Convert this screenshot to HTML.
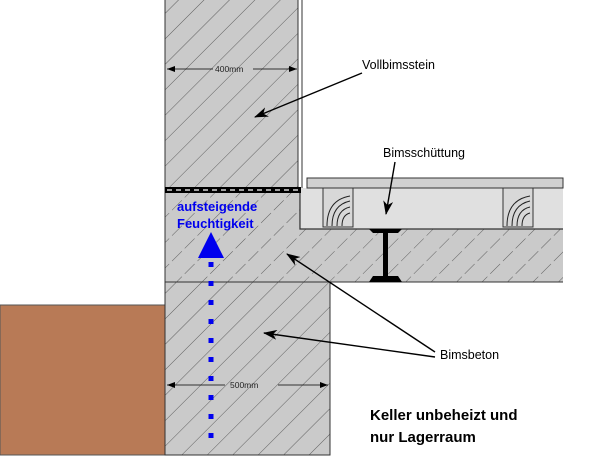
<!DOCTYPE html>
<html><head><style>body{margin:0;background:#fff}svg{display:block}</style></head><body>
<svg width="600" height="463" viewBox="0 0 600 463" xmlns="http://www.w3.org/2000/svg" font-family="Liberation Sans, sans-serif">
<defs>
<pattern id="h" width="18" height="18" patternUnits="userSpaceOnUse" patternTransform="rotate(45)">
<line x1="0" y1="0" x2="0" y2="18" stroke="#444" stroke-width="0.8"/></pattern>
<pattern id="hd" width="18" height="18" patternUnits="userSpaceOnUse" patternTransform="rotate(45)">
<line x1="0" y1="0" x2="0" y2="18" stroke="#444" stroke-width="0.8" stroke-dasharray="9,4"/></pattern>
<marker id="a" markerWidth="14" markerHeight="10" refX="13" refY="5" orient="auto" markerUnits="userSpaceOnUse"><path d="M0,0L14,5L0,10L4,5z" fill="#000"/></marker>
</defs>
<rect x="0" y="305" width="165" height="150" fill="#b87a56" stroke="#555"/>
<rect x="165" y="0" width="133" height="190" fill="#cacaca"/>
<rect x="165" y="0" width="133" height="190" fill="url(#h)"/>
<line x1="165" y1="0" x2="165" y2="190" stroke="#333"/>
<line x1="298" y1="0" x2="298" y2="190" stroke="#333"/>
<line x1="302" y1="0" x2="302" y2="190" stroke="#333"/>
<path d="M165,193 H300 V229 H563 V282 H165 Z" fill="#cacaca"/>
<path d="M165,193 H300 V229 H563 V282 H165 Z" fill="url(#hd)"/>
<path d="M300,193 V229 H563 M165,282 H563" stroke="#333" fill="none"/>
<line x1="165" y1="190" x2="165" y2="282" stroke="#333"/>
<rect x="165" y="187" width="136" height="6" fill="#000"/>
<line x1="167" y1="190" x2="300" y2="190" stroke="#fff" stroke-width="1.2" stroke-dasharray="5,4"/>
<rect x="301" y="188" width="262" height="41" fill="#e0e0e0"/>
<path d="M300,193 V229 H563" stroke="#333" stroke-width="1.3" fill="none"/>
<rect x="307" y="178" width="256" height="10" fill="#d0d0d0" stroke="#333"/>
<rect x="323" y="188" width="30" height="39" fill="#d8d8d8" stroke="#333"/>
<rect x="503" y="188" width="30" height="39" fill="#d8d8d8" stroke="#333"/>
<g fill="none" stroke="#222" stroke-width="1"><path d="M327,226 Q327,200 350,196 M332,226 Q332,205 350,201 M337,226 Q337,210 350,207 M342,226 Q342,215 350,213"/><path d="M507,226 Q507,200 530,196 M512,226 Q512,205 530,201 M517,226 Q517,210 530,207 M522,226 Q522,215 530,213"/></g>
<path d="M369,229 H402 L398,233 H388 V276 H398 L402,282 H369 L373,276 H383 V233 H373 Z" fill="#000"/>
<rect x="165" y="282" width="165" height="173" fill="#cacaca"/>
<rect x="165" y="282" width="165" height="173" fill="url(#h)"/>
<rect x="165" y="282" width="165" height="173" fill="none" stroke="#333"/>
<line x1="211" y1="262" x2="211" y2="452" stroke="#0000ee" stroke-width="5" stroke-dasharray="5,14"/>
<path d="M198,258 L211,232 L224,258 Z" fill="#0000ee"/>
<text x="177" y="211" font-size="13" font-weight="bold" fill="#0000ee">aufsteigende</text>
<text x="177" y="228" font-size="13" font-weight="bold" fill="#0000ee">Feuchtigkeit</text>
<path d="M175,66L167,69L175,72z M289,66L297,69L289,72z M175,382L167,385L175,388z M320,382L328,385L320,388z" fill="#000"/>
<line x1="167" y1="69" x2="213" y2="69" stroke="#000" stroke-width="0.7"/>
<line x1="253" y1="69" x2="297" y2="69" stroke="#000" stroke-width="0.7"/>
<text x="215" y="72" font-size="8.5" fill="#222">400mm</text>
<line x1="167" y1="385" x2="225" y2="385" stroke="#000" stroke-width="0.7"/>
<line x1="278" y1="385" x2="328" y2="385" stroke="#000" stroke-width="0.7"/>
<text x="230" y="388" font-size="8.5" fill="#222">500mm</text>
<line x1="362" y1="73" x2="255" y2="117" stroke="#000" stroke-width="1.4" marker-end="url(#a)"/>
<text x="362" y="69" font-size="12.5">Vollbimsstein</text>
<line x1="395" y1="162" x2="386" y2="214" stroke="#000" stroke-width="1.4" marker-end="url(#a)"/>
<text x="383" y="157" font-size="12.5">Bimsschüttung</text>
<line x1="435" y1="352" x2="287" y2="254" stroke="#000" stroke-width="1.4" marker-end="url(#a)"/>
<line x1="435" y1="357" x2="264" y2="333" stroke="#000" stroke-width="1.4" marker-end="url(#a)"/>
<text x="440" y="359" font-size="12.5">Bimsbeton</text>
<text x="370" y="420" font-size="15" font-weight="bold">Keller unbeheizt und</text>
<text x="370" y="442" font-size="15" font-weight="bold">nur Lagerraum</text>
</svg>
</body></html>
